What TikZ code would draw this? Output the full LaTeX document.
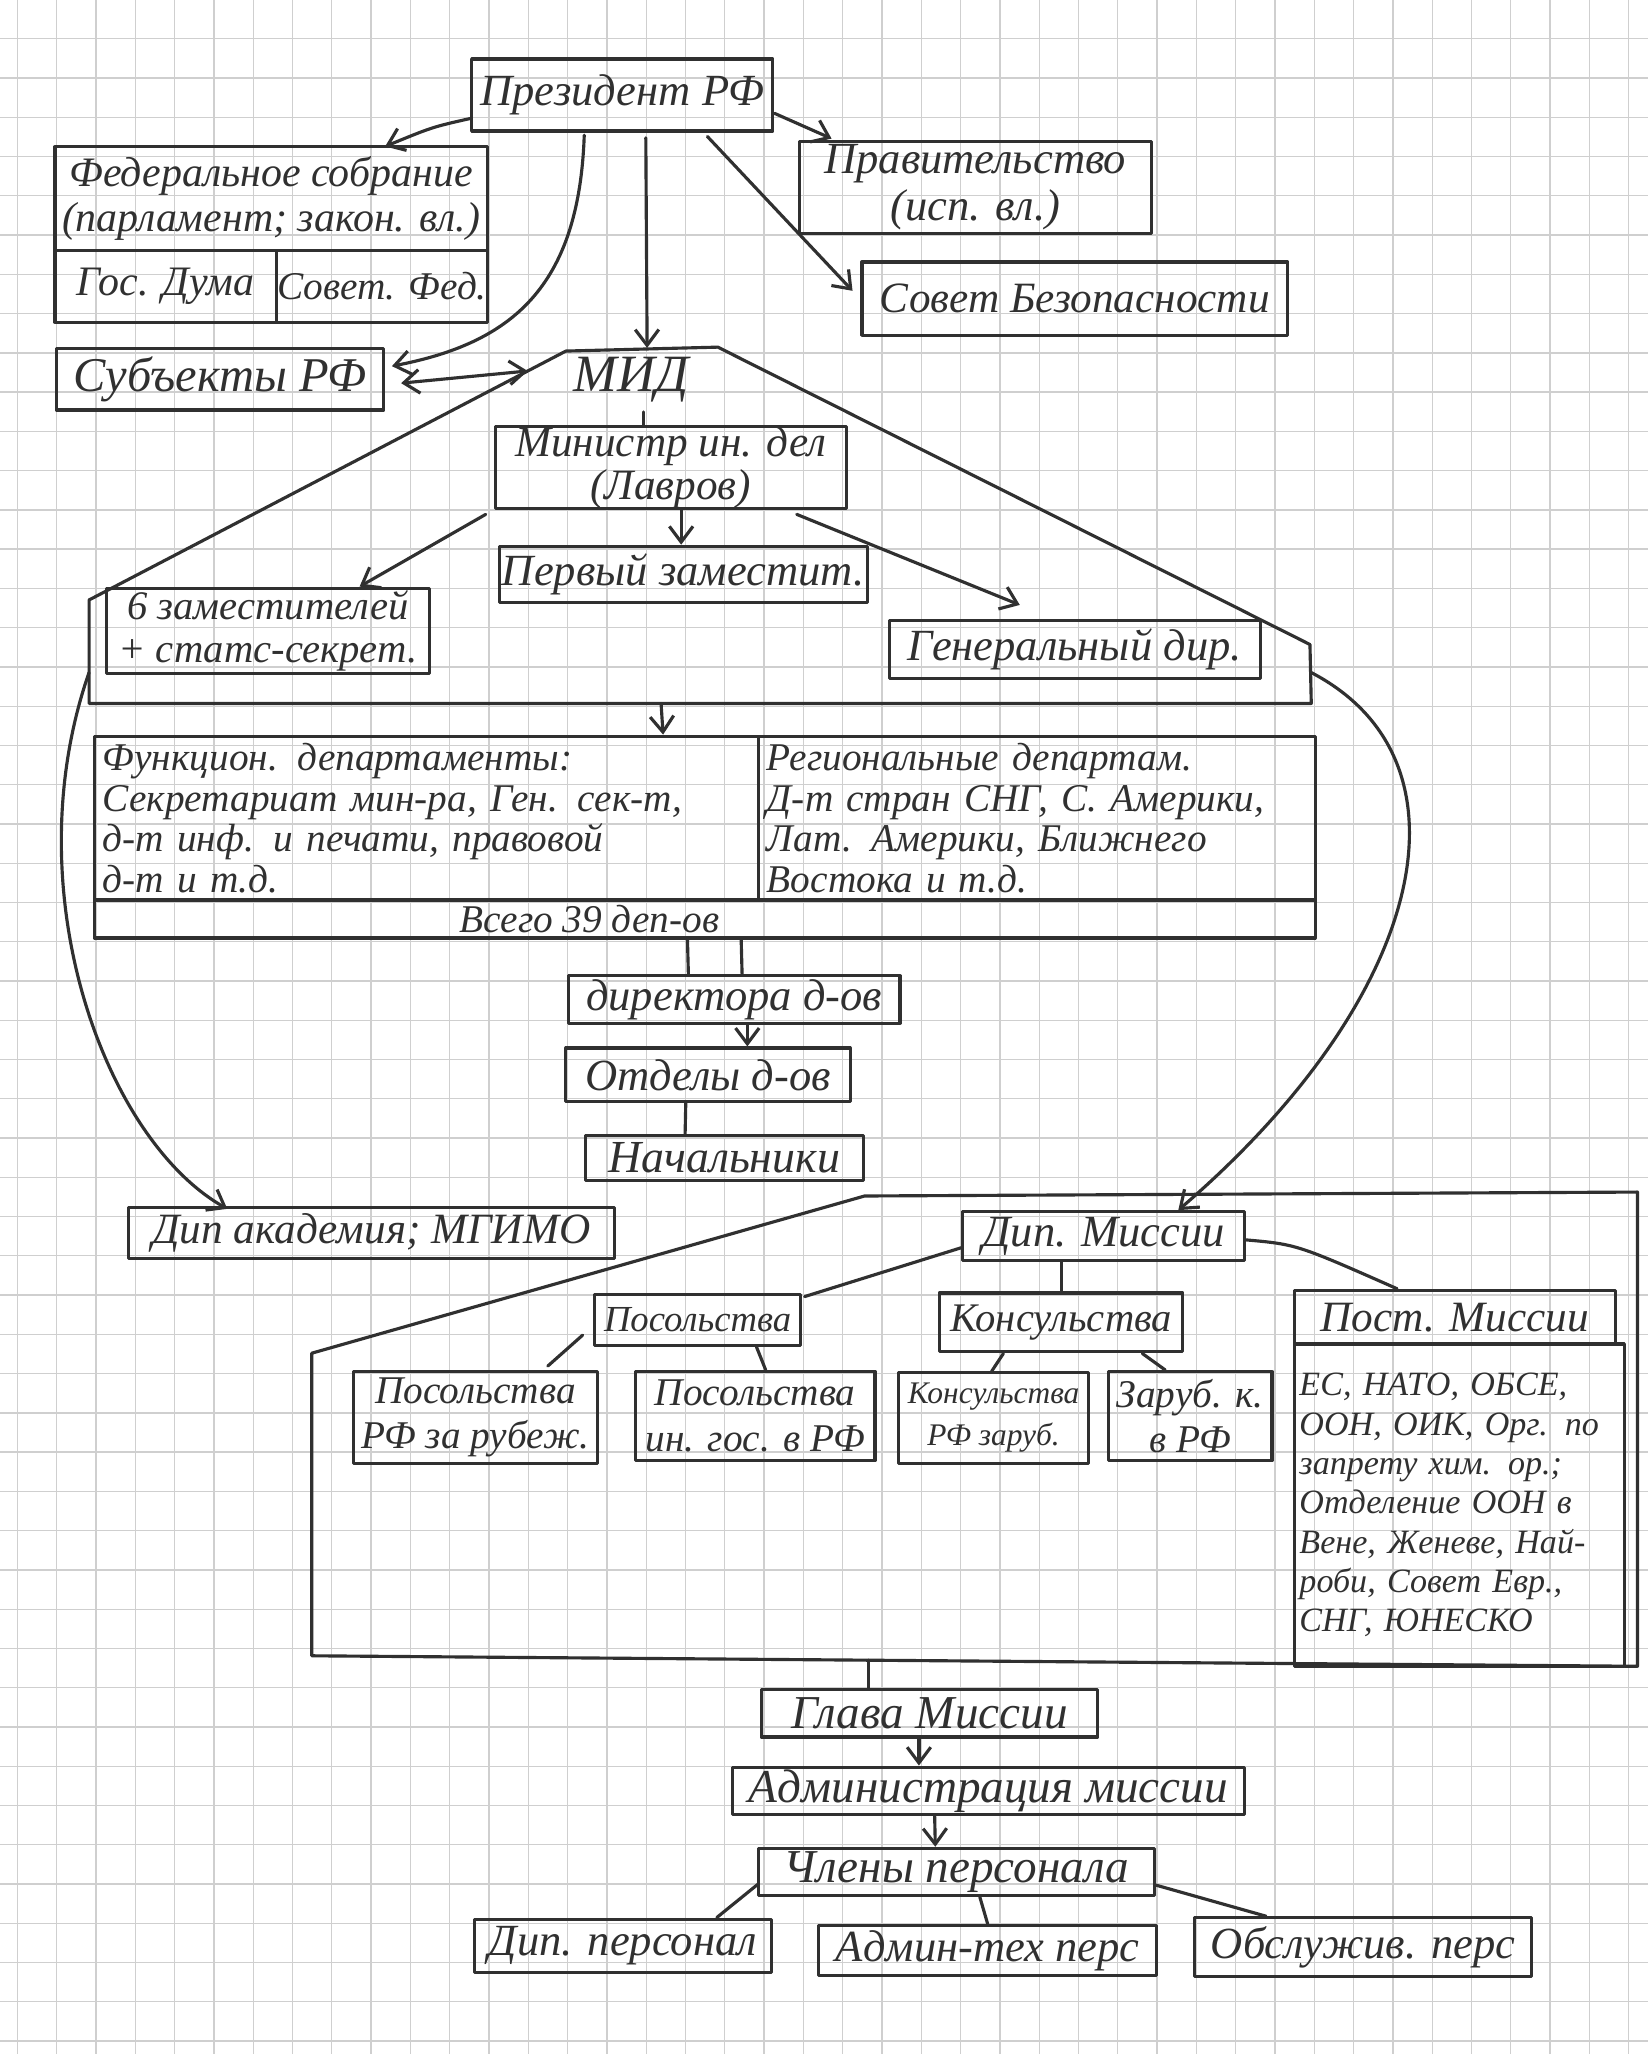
\documentclass[tikz,border=0pt]{standalone}
\usepackage{fontspec}
\setmainfont{Liberation Serif}
\usetikzlibrary{arrows.meta,calc}
\definecolor{inkc}{HTML}{303030}
\definecolor{gridc}{HTML}{CFCFCF}
\newcommand\Fnt[2]{\fontsize{#1}{#2}\selectfont\itshape}
\newcommand\BX[8][]{\node[box,font=#7,minimum width={(#5-#3)*0.5pt},minimum height={(#6-#4)*0.5pt},#1] (#2) at ({(#3+#5)/2},{(#4+#6)/2}) {#8};}
\tikzset{
  inkline/.style={draw=inkc, line width=1.2pt, line join=round, line cap=round},
  box/.style={inkline, rectangle, inner sep=0pt, align=center, text=inkc},
  arr/.style={inkline, -{Straight Barb[length=6pt,width=9pt]}},
  dbl/.style={inkline, {Straight Barb[length=6pt,width=9pt]}-{Straight Barb[length=6pt,width=9pt]}},
  gridline/.style={draw=gridc, line width=0.5pt}
}
\begin{document}
\begin{tikzpicture}[x=0.5pt,y=-0.5pt]
\useasboundingbox (0,0) rectangle (1258,1568);
\fill[white] (0,0) rectangle (1258,1568);
% graph paper
\foreach \i in {0,...,41} {\draw[gridline] ({13.3+30*\i},0) -- ({13.3+30*\i},1568);}
\foreach \j in {0,...,51} {\draw[gridline] (0,{29.6+29.97*\j}) -- (1258,{29.6+29.97*\j});}

% ---- top level
\BX{pres}{360}{45}{590}{100}{\Fnt{17}{19}}{Президент РФ}
\BX{fs}{42}{112}{372}{191}{\Fnt{16}{17.5}}{Федеральное собрание\\(парламент; закон. вл.)}
\BX{gd}{42}{191}{211}{246}{\Fnt{16}{18}}{Гос. Дума}
\BX{sf}{211}{191}{372}{246}{\Fnt{15}{18}}{Совет. Фед.}
\BX{prav}{610}{108}{879}{178}{\Fnt{17}{18}}{Правительство\\(исп. вл.)}
\BX{sb}{658}{200}{983}{256}{\Fnt{16.5}{20}}{Совет Безопасности}
\BX{subj}{43}{266}{293}{313}{\Fnt{18.5}{22}}{Субъекты РФ}

% ---- MID hexagon
\coordinate (hTL) at (432,268);
\coordinate (hTR) at (548,265);
\coordinate (hR1) at (1000,492);
\coordinate (hR2) at (1001,537);
\coordinate (hL2) at (68,537);
\coordinate (hL1) at (68,458);
\draw[inkline] (hTL) -- (hTR) -- (hR1) -- (hR2) -- (hL2) -- (hL1) -- cycle;
\node[font=\Fnt{20}{22}, minimum height=24pt, inner sep=0pt, text=inkc] (mid) at (482,290) {МИД};

\BX{min}{378}{326}{646}{388}{\Fnt{16.5}{16.5}}{Министр ин. дел\\(Лавров)}
\BX{first}{381}{417}{662}{460}{\Fnt{17}{19}}{Первый заместит.}
\BX{six}{81}{449}{328}{514}{\Fnt{15.5}{16.5}}{6 заместителей\\+ статс-секрет.}
\BX{gen}{679}{474}{962}{518}{\Fnt{17}{19}}{Генеральный дир.}

% ---- departments
\BX[align=left,text width=247pt,inner xsep=3pt]{func}{72}{562}{579}{687}{\Fnt{15}{15.5}}{Функцион. департаменты:\\Секретариат мин-ра, Ген. сек-т,\\д-т инф. и печати, правовой\\д-т и т.д.}
\BX[align=left,text width=206pt,inner xsep=3pt]{reg}{579}{562}{1004}{687}{\Fnt{15}{15.5}}{Региональные департам.\\Д-т стран СНГ, С. Америки,\\Лат. Америки, Ближнего\\Востока и т.д.}
\BX{tot}{72}{687}{1004}{716}{\Fnt{15}{16}}{Всего 39 деп-ов\hspace{88pt}}
\BX{dir}{434}{745}{687}{781}{\Fnt{17}{19}}{директора д-ов}
\BX{otd}{432}{800}{649}{841}{\Fnt{17}{19}}{Отделы д-ов}
\BX{nach}{447}{867}{659}{901}{\Fnt{17.5}{19}}{Начальники}
\BX{dak}{98}{922}{469}{961}{\Fnt{16.5}{19}}{Дип академия; МГИМО}
\BX{dm}{735}{925}{950}{962}{\Fnt{17}{19}}{Дип. Миссии}

% ---- missions frame
\coordinate (bTL) at (660,913);
\coordinate (bTR) at (1250,910);
\coordinate (bBR) at (1250,1272);
\coordinate (bBL) at (238,1264);
\coordinate (bL1) at (238,1033);
\draw[inkline] (bTL) -- (bTR) -- (bBR) -- (bBL) -- (bL1) -- cycle;

\BX{pos}{454}{988}{611}{1027}{\Fnt{14}{17}}{Посольства}
\BX{kons}{717}{987}{903}{1032}{\Fnt{15.5}{18}}{Консульства}
\BX{pm}{988}{985}{1233}{1026}{\Fnt{16.5}{19}}{Пост. Миссии}
\BX[align=left,text width=122pt,inner xsep=2pt]{pmc}{988}{1026}{1240}{1272}{\Fnt{13}{15}}{ЕС, НАТО, ОБСЕ,\\ООН, ОИК, Орг. по\\запрету хим. ор.;\\Отделение ООН в\\Вене, Женеве, Най-\\роби, Совет Евр.,\\СНГ, ЮНЕСКО}
\BX{pre}{270}{1047}{456}{1117}{\Fnt{15}{17.5}}{Посольства\\РФ за рубеж.}
\BX{pin}{485}{1047}{668}{1115}{\Fnt{15}{17.5}}{Посольства\\ин. гос. в РФ}
\BX{krf}{686}{1048}{831}{1117}{\Fnt{12}{16}}{Консульства\\РФ заруб.}
\BX{kzr}{846}{1047}{971}{1115}{\Fnt{15}{17.5}}{Заруб. к.\\в РФ}

% ---- bottom chain
\BX{glava}{581}{1290}{838}{1326}{\Fnt{18}{19}}{Глава Миссии}
\BX{adm}{559}{1349}{950}{1385}{\Fnt{18}{19}}{Администрация миссии}
\BX{chl}{579}{1411}{881}{1447}{\Fnt{18}{19}}{Члены персонала}
\BX{dp}{362}{1465}{589}{1506}{\Fnt{17}{19}}{Дип. персонал}
\BX{at}{625}{1470}{883}{1508}{\Fnt{17}{19}}{Админ-тех перс}
\BX{ob}{912}{1464}{1169}{1509}{\Fnt{17}{19}}{Обслужив. перс}

% ---- connectors: president
\draw[arr] ($(pres.west)+(0,18)$) .. controls (330,97) .. ($(fs.north)+(87,1)$);
\draw[arr] ($(pres.east)+(0,14)$) -- ($(prav.north west)+(26,-1)$);
\draw[arr] ($(pres.south)+(65,3)$) -- ($(sb.west)+(-6,-6)$);
\draw[arr] ($(pres.south)+(18,4)$) -- ($(mid.north)+(12,0)$);
\draw[arr] ($(pres.south)+(-29,2)$) .. controls (442,220) and (390,262) .. ($(subj.east)+(5,-10)$);
\draw[dbl] ($(subj.east)+(12,3)$) -- ($(hTL)!0.08!(hL1)$);

% ---- inside MID
\draw[inkline] ($(mid.south)+(9,0)$) -- ($(min.north)+(-21,0)$);
\draw[arr] ($(min.south)+(8,0)$) -- ($(first.north)+(-1.5,0)$);
\draw[arr] ($(min.south west)+(-6,3)$) -- ($(six.north)+(70,0)$);
\draw[arr] ($(min.south east)+(-39,3)$) -- ($(gen.north)+(-42,-11)$);
\draw[arr] ($(hL2)!0.468!(hR2)$) -- ($(func.north east)+(-74,0)$);

% ---- departments chain
\draw[inkline] ($(tot.south west)+(454,0)$) -- ($(dir.north)+(-35,0)$);
\draw[inkline] ($(tot.south west)+(495,0)$) -- ($(dir.north)+(6,0)$);
\draw[arr] ($(dir.south)+(10,0)$) -- ($(otd.north)+(30,0)$);
\draw[inkline] ($(otd.south)+(-17,0)$) -- ($(nach.north)+(-30,0)$);

% ---- big curves
\draw[arr] ($(hL1)!0.7!(hL2)$) .. controls (10,680) and (80,870) .. ($(dak.north)+(-110,2)$);
\draw[arr] ($(hR1)!0.47!(hR2)$) .. controls (1130,580) and (1090,760) .. ($(dm.north)+(57,0)$);

% ---- missions
\draw[inkline] ($(dm.west)+(0,9)$) -- ($(pos.north east)+(2,3)$);
\draw[inkline] (dm.south -| kons.north) -- (kons.north);
\draw[inkline] ($(dm.east)+(0,3)$) .. controls (990,950) .. ($(pm.north)+(-44,0)$);
\draw[inkline] ($(pos.south west)+(-8,-9)$) -- ($(pre.north east)+(-39,-3)$);
\draw[inkline] ($(pos.south)+(45,0)$) -- ($(pin.north)+(8,0)$);
\draw[inkline] ($(kons.south)+(-44,0)$) -- ($(krf.north)+(-1.5,0)$);
\draw[inkline] ($(kons.south)+(62,0)$) -- ($(kzr.north)+(-19,0)$);

% ---- bottom
\coordinate (bB) at ($(bBL)!0.42!(bBR)$);
\draw[inkline] (bB) -- (bB |- glava.north);
\draw[arr] ($(glava.south)+(-8,0)$) -- ($(adm.north)+(-53,0)$);
\draw[arr] ($(adm.south)+(-41,0)$) -- ($(chl.north)+(-16,0)$);
\draw[inkline] ($(chl.south west)+(1,-10)$) -- ($(dp.north east)+(-43,0)$);
\draw[inkline] ($(chl.south)+(18,0)$) -- (at.north);
\draw[inkline] ($(chl.east)+(0,10)$) -- ($(ob.north)+(-74,0)$);
\end{tikzpicture}
\end{document}
